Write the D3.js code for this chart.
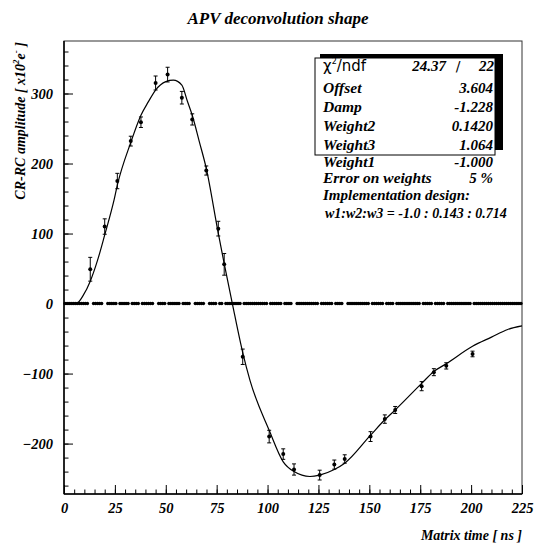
<!DOCTYPE html>
<html>
<head>
<meta charset="utf-8">
<script src="https://cdn.jsdelivr.net/npm/d3@7"></script>
<style>
  body { margin: 0; background: #fff; }
  svg text { font-family: "Liberation Serif", "Times New Roman", serif; font-weight: bold; font-style: italic; }
</style>
</head>
<body>
<svg id="chart" width="550" height="554"></svg>
<script>
// measured points (time in ns, amplitude in 100 e-, error)
const times = [12.9, 20.0, 26.2, 32.8, 37.8, 45.0, 50.9, 57.9, 63.0, 69.9, 75.8, 78.7,
  87.8, 100.8, 107.7, 113.0, 125.6, 132.8, 137.9, 150.6, 157.6, 162.7, 175.7, 181.7, 187.8, 200.7];
const amps = [49, 110, 175, 232, 259, 315, 327, 294, 263, 190, 107, 56,
  -76, -190, -215, -237, -245, -230, -222, -190, -165, -152, -118, -98, -89, -72];
const errs = [17, 11, 11, 7, 7.5, 10, 10.5, 9, 8, 6.5, 10.5, 15.5,
  11, 9, 7.5, 8, 7, 6.5, 6, 7, 6, 5, 6.5, 5, 4.5, 4];

// fitted shape
const fitT = [0, 6, 9.5, 12.9, 16.5, 20, 24.6, 26.2, 32.8, 37.8, 41.4, 45, 50, 53.7, 57.9, 60.5, 63,
  66.5, 69.9, 75.5, 78.7, 82.7, 87.8, 91.4, 100.8, 107.7, 113, 120.8, 125.6, 132.8, 137.9, 150.6,
  157.6, 162.7, 175.7, 181.7, 187.8, 200.7, 210, 218, 225];
const fitV = [0, 0, 12, 32, 62, 98, 148, 169, 230, 269, 288, 305, 317, 319, 312, 290, 269,
  231, 193, 105, 57, 0, -70, -110, -181, -226, -240, -247, -245, -237, -228, -188,
  -166, -152, -114, -97, -86, -61, -48, -37, -32];

// empty bins drawn at zero
const zeroBins = d3.range(0.5, 225, 1).filter(t => !times.some(d => Math.abs(d - t) < 0.6));

const xMajor = [0, 25, 50, 75, 100, 125, 150, 175, 200, 225];
const yMajor = [-200, -100, 0, 100, 200, 300];

const stats = [
  ["Offset", "3.604"],
  ["Damp", "-1.228"],
  ["Weight2", "0.1420"],
  ["Weight3", "1.064"]
];
const extra = [
  ["Weight1", "-1.000"],
  ["Error on weights", "5 %"]
];

const svg = d3.select("#chart");
const margin = { top: 41, right: 28, bottom: 60, left: 64 };
const width = 550, height = 554;

const x = d3.scaleLinear().domain([0, 225]).range([margin.left, width - margin.right]);
const y = d3.scaleLinear().domain([-272, 375]).range([height - margin.bottom, margin.top]);

// frame
svg.append("rect")
  .attr("x", x(0)).attr("y", y(375))
  .attr("width", x(225) - x(0)).attr("height", y(-272) - y(375))
  .attr("fill", "none").attr("stroke", "#333").attr("stroke-width", 1);

// axes
const xMinor = d3.range(0, 226, 5);
const yMinor = d3.range(-260, 375, 20);

svg.append("g").attr("transform", `translate(0,${y(-272)})`)
  .call(d3.axisBottom(x).tickValues(xMinor).tickSize(-4.5).tickFormat(""))
  .call(g => g.select(".domain").remove());
svg.append("g").attr("transform", `translate(0,${y(-272)})`)
  .call(d3.axisBottom(x).tickValues(xMajor).tickSize(-9).tickPadding(9).tickFormat(d3.format("d")))
  .call(g => g.select(".domain").attr("d", `M${x(0)},0H${x(225)}`).attr("stroke-width", 1.5))
  .call(g => g.selectAll("text").attr("font-size", 14.5).attr("fill", "#000"));

svg.append("g").attr("transform", `translate(${x(0)},0)`)
  .call(d3.axisLeft(y).tickValues(yMinor).tickSize(-4.5).tickFormat(""))
  .call(g => g.select(".domain").remove());
svg.append("g").attr("transform", `translate(${x(0)},0)`)
  .call(d3.axisLeft(y).tickValues(yMajor).tickSize(-9).tickPadding(11).tickFormat(d3.format("d")))
  .call(g => g.select(".domain").attr("d", `M0,${y(-272)}V${y(375)}`).attr("stroke-width", 1.5))
  .call(g => g.selectAll("text").attr("font-size", 14.5).attr("fill", "#000"));

// zero row
svg.append("g").selectAll("circle").data(zeroBins).join("circle")
  .attr("cx", d => x(d)).attr("cy", y(0)).attr("r", 1.7).attr("fill", "#000");

// fit curve
const line = d3.line().x((d, i) => x(fitT[i])).y(d => y(d)).curve(d3.curveMonotoneX);
svg.append("path").attr("d", line(fitV))
  .attr("fill", "none").attr("stroke", "#000").attr("stroke-width", 1.2);

// error bars and points
const pts = times.map((t, i) => ({ t, v: amps[i], e: errs[i] }));
const eb = svg.append("g").attr("stroke", "#000").attr("stroke-width", 1);
eb.selectAll(".bar").data(pts).join("line")
  .attr("x1", d => x(d.t)).attr("x2", d => x(d.t))
  .attr("y1", d => y(d.v - d.e)).attr("y2", d => y(d.v + d.e));
eb.selectAll(".capTop").data(pts).join("line").attr("class", "capTop")
  .attr("x1", d => x(d.t) - 2).attr("x2", d => x(d.t) + 2)
  .attr("y1", d => y(d.v + d.e)).attr("y2", d => y(d.v + d.e));
eb.selectAll(".capBot").data(pts).join("line").attr("class", "capBot")
  .attr("x1", d => x(d.t) - 2).attr("x2", d => x(d.t) + 2)
  .attr("y1", d => y(d.v - d.e)).attr("y2", d => y(d.v - d.e));
svg.append("g").selectAll("circle").data(pts).join("circle")
  .attr("cx", d => x(d.t)).attr("cy", d => y(d.v)).attr("r", 2).attr("fill", "#000");

// title
svg.append("text").attr("x", 278).attr("y", 24).attr("text-anchor", "middle")
  .attr("font-size", 17).text("APV deconvolution shape");

// axis titles
const yt = svg.append("text").attr("transform", "translate(25,42) rotate(-90)")
  .attr("text-anchor", "end").attr("font-size", 14);
yt.append("tspan").text("CR-RC amplitude [ x10");
yt.append("tspan").attr("font-size", 9).attr("dy", -6).text("2");
yt.append("tspan").attr("dy", 6).text("e");
yt.append("tspan").attr("font-size", 9).attr("dy", -6).text("-");
yt.append("tspan").attr("dy", 6).text(" ]");

svg.append("text").attr("x", x(225)).attr("y", 540).attr("text-anchor", "end")
  .attr("font-size", 14).text("Matrix time [ ns ]");

// stats box
svg.append("rect").attr("x", 320).attr("y", 54).attr("width", 183).attr("height", 96).attr("fill", "#000");
svg.append("rect").attr("x", 315).attr("y", 58).attr("width", 180).attr("height", 97)
  .attr("fill", "#fff").attr("stroke", "#000").attr("stroke-width", 1);

const chi = svg.append("text").attr("x", 323).attr("y", 71)
  .attr("font-size", 15).style("font-family", "'DejaVu Sans', sans-serif")
  .style("font-style", "normal").style("font-weight", "normal");
chi.append("tspan").text("\u03c7");
chi.append("tspan").attr("font-size", 8).attr("dy", -7).text("2");
chi.append("tspan").attr("dy", 7).text("/ndf");
svg.append("text").attr("x", 446).attr("y", 71).attr("text-anchor", "end").attr("font-size", 15).text("24.37");
svg.append("text").attr("x", 458).attr("y", 71).attr("text-anchor", "middle").attr("font-size", 14)
  .style("font-family", "'DejaVu Sans', sans-serif").style("font-style", "normal").style("font-weight", "normal").text("/");
svg.append("text").attr("x", 494).attr("y", 71).attr("text-anchor", "end").attr("font-size", 15).text("22");

const rowsY = [93, 112, 131, 150];
stats.forEach((s, i) => {
  svg.append("text").attr("x", 323).attr("y", rowsY[i]).attr("font-size", 15.5).text(s[0]);
  svg.append("text").attr("x", 493).attr("y", rowsY[i]).attr("text-anchor", "end").attr("font-size", 15).text(s[1]);
});
const extraY = [167, 183];
extra.forEach((s, i) => {
  svg.append("text").attr("x", 323).attr("y", extraY[i]).attr("font-size", 15.5).text(s[0]);
  svg.append("text").attr("x", 493).attr("y", extraY[i]).attr("text-anchor", "end").attr("font-size", 15).text(s[1]);
});
svg.append("text").attr("x", 323).attr("y", 200).attr("font-size", 15).text("Implementation design:");
svg.append("text").attr("x", 325).attr("y", 218).attr("font-size", 14).text("w1:w2:w3 = -1.0 : 0.143 : 0.714");
</script>
</body>
</html>
